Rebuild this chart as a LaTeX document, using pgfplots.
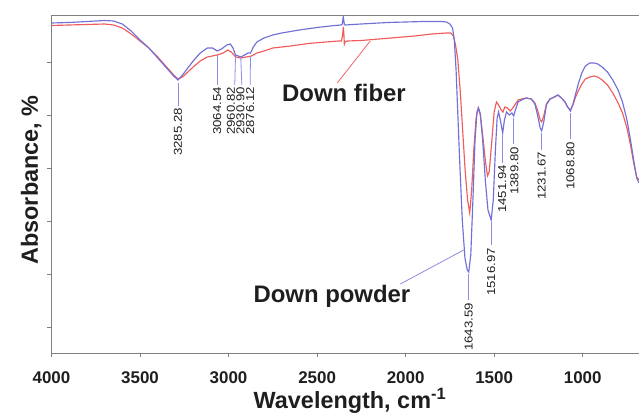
\documentclass[border=0pt]{standalone}
\usepackage{graphicx}
\usepackage{fontspec}
\setmainfont{Liberation Sans}
\usepackage{pgfplots}
\pgfplotsset{compat=1.18}
\definecolor{powder}{RGB}{112,112,214}
\definecolor{fiber}{RGB}{240,92,92}
\definecolor{powderlead}{RGB}{140,140,225}
\definecolor{fiberlead}{RGB}{240,100,100}
\definecolor{axgray}{RGB}{128,128,128}
\definecolor{txt}{RGB}{30,30,30}
\newcommand{\pk}[1]{\scalebox{1.15}[1]{#1}}
\begin{document}
\begin{tikzpicture}
\begin{axis}[
  at={(0,0)}, anchor=south west,
  scale only axis, width=587.5bp, height=337.5bp,
  x dir=reverse,
  xmin=682, xmax=4000, ymin=0, ymax=337.5,
  xtick={1000,1500,2000,2500,3000,3500,4000},
  ytick={26,79,132,185,238,291},
  yticklabels={},
  xtick pos=left, ytick pos=left,
  tick align=outside,
  major tick length=4bp,
  tick style={draw=axgray, line width=0.8bp},
  axis line style={draw=none},
  /pgf/number format/assume math mode=true,
  /pgf/number format/set thousands separator={},
  ticklabel style={font=\bfseries\fontsize{17}{17}\selectfont, text=txt},
  every x tick label/.append style={anchor=base, yshift=-26bp},
  xlabel={Wavelength, cm\textsuperscript{-1}},
  ylabel={Absorbance, \%},
  every axis x label/.style={at={(axis description cs:0.508,-0.164)}, anchor=base, font=\bfseries\fontsize{23.5}{23.5}\selectfont, text=txt},
  every axis y label/.style={at={(axis description cs:-0.023,0.5126)}, rotate=90, anchor=base, font=\bfseries\fontsize{23.5}{23.5}\selectfont, text=txt},
  clip mode=individual,
]
% frame (left, top, bottom)
\draw[axgray, line width=0.9bp] (axis description cs:1,1) -- (axis description cs:0,1) -- (axis description cs:0,0) -- (axis description cs:1,0);

% Down fiber (red)
\addplot[fiber, line width=1.15bp, no marks] coordinates {
(4000,327.5) (3900,328) (3800,328.5) (3700,329) (3650,328) (3600,325) (3550,319) (3500,312)
(3450,305) (3400,296) (3350,286) (3310,278) (3285,274) (3260,276) (3230,281) (3200,286)
(3160,292) (3120,296) (3064.54,298) (3030,300) (3005,303) (2985,301) (2960,296) (2930,295)
(2900,296) (2870,297) (2840,300) (2800,302) (2750,305) (2650,307) (2550,309.5) (2450,311)
(2380,312) (2362,312) (2356,318) (2352,326) (2349,320) (2346,309) (2342,311) (2330,312)
(2250,312.5) (2150,314) (2050,315.5) (1950,317) (1850,319) (1770,320) (1745,320) (1730,317)
(1718,308) (1705,293) (1690,258) (1678,223) (1664,183) (1650,153) (1638,140) (1627,163)
(1615,203) (1602,235) (1590,245) (1578,238) (1565,218) (1550,193) (1538,177) (1528,181)
(1515,208) (1500,241) (1487,251) (1475,248) (1460,243) (1450,241) (1440,246) (1425,245)
(1410,242) (1395,245) (1380,249) (1365,253) (1345,254) (1320,255) (1290,254) (1270,250)
(1255,243) (1240,233) (1231.67,231) (1220,237) (1205,249) (1185,254) (1160,256) (1140,258)
(1120,255) (1100,251) (1085,246) (1068.8,243) (1055,248) (1040,256) (1025,262) (1005,269)
(985,274) (960,276) (935,277) (915,276) (890,273) (860,268) (830,260) (800,250)
(775,240) (750,225) (730,208) (712,190) (695,176) (682,173)
};

% Down powder (blue)
\addplot[powder, line width=1.15bp, no marks] coordinates {
(4000,330) (3900,330.5) (3800,331.5) (3700,332.5) (3650,332) (3600,329) (3550,322) (3500,313)
(3450,305) (3400,295) (3350,285) (3310,277) (3285.28,273) (3260,278) (3230,285) (3200,292)
(3160,300) (3120,305) (3090,305) (3064.54,302) (3040,304) (3010,308) (2990,309) (2975,305)
(2960.82,298) (2945,297) (2930.9,296) (2910,298) (2890,300) (2876.12,300) (2860,306) (2840,311)
(2800,315) (2750,318) (2700,320) (2600,323) (2500,325.5) (2400,327.5) (2365,328) (2358,329)
(2352,336) (2346,328.5) (2340,328) (2300,328.5) (2200,329.5) (2100,330.5) (2000,331) (1900,331.5)
(1800,331.5) (1770,331) (1750,329) (1735,325) (1725,313) (1715,283) (1705,238) (1695,193)
(1680,133) (1665,95) (1652,83) (1643.59,81) (1632,98) (1620,153) (1608,213) (1597,241)
(1588,245) (1578,239) (1565,213) (1550,173) (1535,143) (1516.97,133) (1505,153) (1493,203)
(1483,235) (1475,241) (1465,233) (1451.94,220) (1442,233) (1430,241) (1415,238) (1400,240)
(1389.8,237) (1380,243) (1365,251) (1345,253) (1320,255) (1290,254) (1270,249) (1255,238)
(1240,225) (1231.67,222) (1220,231) (1205,248) (1185,254) (1160,256) (1140,258) (1120,255)
(1100,251) (1085,246) (1068.8,242) (1055,249) (1040,259) (1025,269) (1005,280) (985,287)
(960,290) (935,290) (915,289) (890,286) (860,281) (830,273) (800,263) (775,251)
(750,233) (730,213) (712,193) (695,175) (682,170)
};

% peak leader lines
\begin{scope}[powderlead, line width=0.8bp]
\draw (axis cs:3285.28,270) -- (axis cs:3285.28,247);
\draw (axis cs:3064.54,298) -- (axis cs:3064.54,268);
\draw (axis cs:2960.82,296) -- (axis cs:2965,268);
\draw (axis cs:2930.9,295) -- (axis cs:2925,268);
\draw (axis cs:2876.12,297) -- (axis cs:2878,268);
\draw (axis cs:1643.59,79) -- (axis cs:1643.59,53);
\draw (axis cs:1516.97,131) -- (axis cs:1516.97,108);
\draw (axis cs:1451.94,218) -- (axis cs:1451.94,190);
\draw (axis cs:1389.8,235) -- (axis cs:1389.8,209);
\draw (axis cs:1231.67,220) -- (axis cs:1231.67,203);
\draw (axis cs:1068.8,240) -- (axis cs:1068.8,214);
\draw (axis cs:2030,69) -- (axis cs:1672,103);
\end{scope}
\draw[fiberlead, line width=0.8bp] (axis cs:2200,312) -- (axis cs:2386,270);

% peak labels
\begin{scope}[every node/.style={rotate=90, anchor=east, inner sep=0pt, text=txt, font=\fontsize{11.5}{11.5}\selectfont}]
\node at (axis cs:3285.28,245) {\pk{3285.28}};
\node at (axis cs:3064.54,266) {\pk{3064.54}};
\node at (axis cs:2987,266) {\pk{2960.82}};
\node at (axis cs:2933,266) {\pk{2930.90}};
\node at (axis cs:2878,266) {\pk{2876.12}};
\node at (axis cs:1643.59,50) {\pk{1643.59}};
\node at (axis cs:1516.97,105) {\pk{1516.97}};
\node at (axis cs:1454,188) {\pk{1451.94}};
\node at (axis cs:1385,206) {\pk{1389.80}};
\node at (axis cs:1231.67,201) {\pk{1231.67}};
\node at (axis cs:1068.8,211) {\pk{1068.80}};
\end{scope}

% series names
\node[anchor=base west, inner sep=0pt, text=txt, font=\bfseries\fontsize{24}{24}\selectfont] at (axis cs:2698,251) {Down fiber};
\node[anchor=base west, inner sep=0pt, text=txt, font=\bfseries\fontsize{24}{24}\selectfont] at (axis cs:2860,50) {Down powder};
\end{axis}
\pgfresetboundingbox
\useasboundingbox (-51.5bp,-63bp) rectangle (587.5bp,353bp);
\end{tikzpicture}
\end{document}
